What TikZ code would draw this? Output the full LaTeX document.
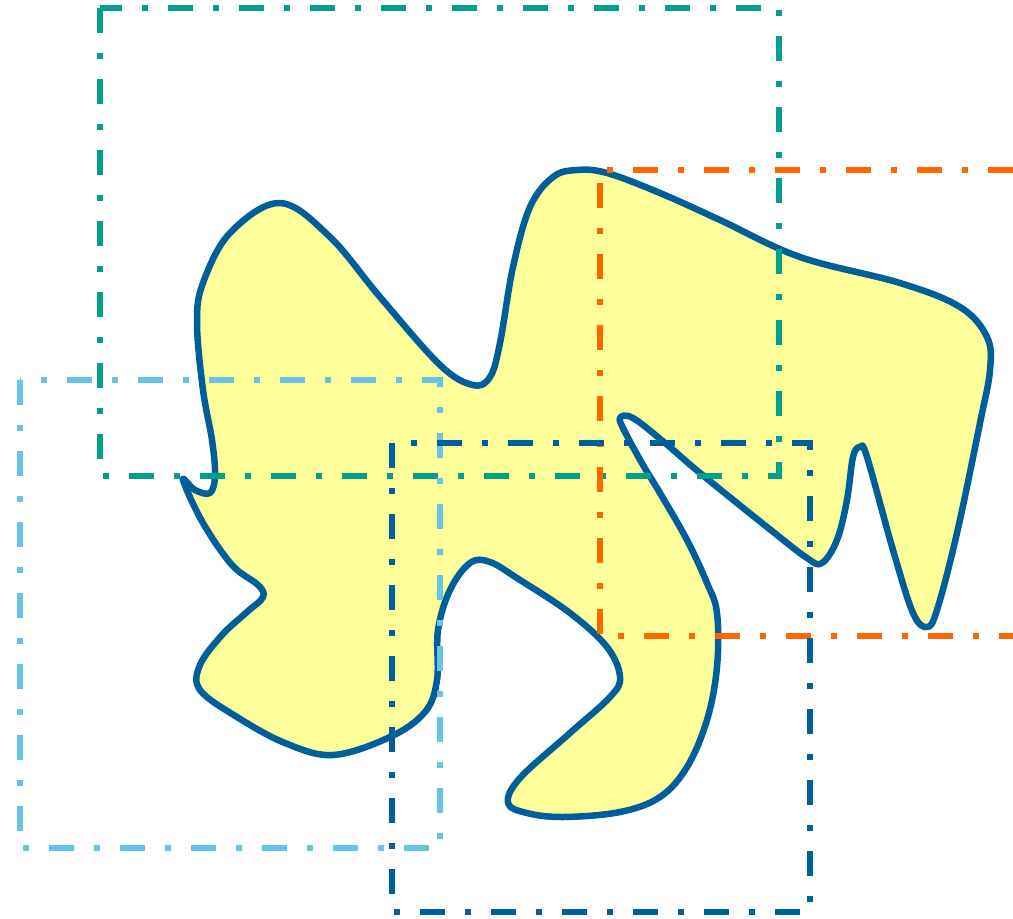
\documentclass[tikz,border=0pt]{standalone}
\usepackage{tikz}
\definecolor{blobblue}{HTML}{005E9A}
\definecolor{blobfill}{HTML}{FFFF99}
\definecolor{teal}{HTML}{00A08C}
\definecolor{orange}{HTML}{FF6600}
\definecolor{skyblue}{HTML}{66C5E6}
\definecolor{navy}{HTML}{005E9A}

\begin{document}
\begin{tikzpicture}[x=1pt,y=-1pt,
  window/.style={line width=6pt,dash pattern=on 25pt off 20pt on 6pt off 20pt},
  blobline/.style={draw=blobblue,fill=blobfill,line width=6.5pt,line join=round}]
  \useasboundingbox (0,0) rectangle (1013,919);
  % the region
  \draw[blobline] plot[smooth cycle,tension=0.6] coordinates {
    (183,480) (203,523) (232,565) (258,585) (263,597) (247,612) (222,635)
    (200,665) (200,690) (237,717) (285,743) (333,755) (390,737) (425,712)
    (437,680) (438,630) (450,590) (470,563) (490,562) (520,580) (570,613)
    (607,647) (620,677) (610,697) (570,733) (520,778) (508,803) (527,813)
    (563,817) (620,812) (660,797) (687,767) (707,720) (717,667) (717,613)
    (707,583) (687,540) (660,493) (643,465) (625,432) (620,418) (633,418)
    (665,443) (700,473) (767,527) (807,558) (822,563) (837,540) (847,500)
    (853,457) (860,447) (867,457) (893,550) (913,613) (927,627) (937,610)
    (957,533) (980,423) (990,370) (987,337) (960,307) (900,283) (800,257)
    (720,220) (660,193) (607,173) (577,170) (553,177) (530,207) (513,267)
    (500,343) (490,377) (473,385) (440,365) (380,297) (330,237) (280,203)
    (230,233) (203,283) (197,323) (203,390) (212,440) (215,475) (210,493)
    (195,490)};
  % windows
  \draw[window,teal] (100,8) rectangle (779,476);
  \draw[window,orange] (1013,170) -- (600,170) -- (600,636) -- (1013,636);
  \draw[window,skyblue] (20,380) rectangle (440,848);
  \draw[window,navy] (392,443) rectangle (810,912);
\end{tikzpicture}
\end{document}
